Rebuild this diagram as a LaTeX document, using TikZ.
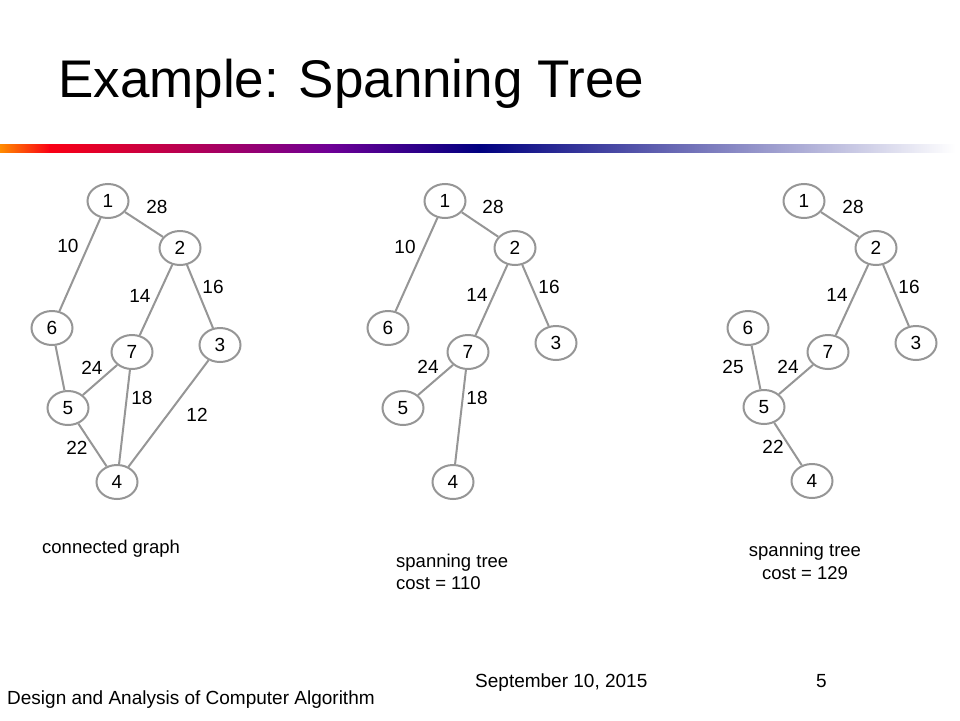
\documentclass[tikz,border=0pt]{standalone}
\usepackage{fontspec}
\setmainfont{Liberation Sans}
\usetikzlibrary{shapes.geometric}
\definecolor{edgegray}{RGB}{150,150,150}
\definecolor{gorange}{RGB}{255,140,0}
\definecolor{gred}{RGB}{250,0,20}
\definecolor{gpurple}{RGB}{110,0,150}
\definecolor{gnavy}{RGB}{0,0,128}
\begin{document}
\begin{tikzpicture}[x=1pt,y=-1pt,
  vtx/.style={ellipse,draw=edgegray,line width=2pt,minimum width=41pt,minimum height=34pt,inner sep=0pt,font=\fontsize{19}{22}\selectfont,fill=white},
  edg/.style={draw=edgegray,line width=2pt},
  wlab/.style={font=\fontsize{19}{22}\selectfont,inner sep=0pt},
  captxt/.style={font=\fontsize{18.5}{22}\selectfont,inner sep=0pt,anchor=base west},
  foot/.style={font=\fontsize{19}{22}\selectfont,inner sep=0pt,anchor=base west}]
\useasboundingbox (0,0) rectangle (960,720);
\fill[white] (0,0) rectangle (960,720);
% title
\node[font=\fontsize{53}{60}\selectfont,inner sep=0pt,anchor=base west] (title) at (58,97) {Example: Spanning Tree};
% gradient bar
\shade[left color=gorange,right color=gred] (0,144) rectangle (50,152);
\shade[left color=gred,right color=gpurple] (49.5,144) rectangle (330,152);
\shade[left color=gpurple,right color=gnavy] (329.5,144) rectangle (480,152);
\shade[left color=gnavy,right color=white] (479.5,144) rectangle (955,152);

% ---------- graph 1 ----------
\node[vtx] (a1) at (108,201) {1};
\node[vtx] (a2) at (180,248) {2};
\node[vtx] (a6) at (52,328) {6};
\node[vtx] (a7) at (132,352) {7};
\node[vtx] (a3) at (220,345) {3};
\node[vtx] (a5) at (68,408) {5};
\node[vtx] (a4) at (117,482) {4};
\draw[edg] (a1) -- (a6);
\draw[edg] (a1) -- (a2);
\draw[edg] (a2) -- (a7);
\draw[edg] (a2) -- (a3);
\draw[edg] (a6) -- (a5);
\draw[edg] (a7) -- (a5);
\draw[edg] (a7) -- (a4);
\draw[edg] (a5) -- (a4);
\draw[edg] (a3) -- (a4);
\node[wlab] (la28) at (157,207) {28};
\node[wlab] (la10) at (68,246) {10};
\node[wlab] (la16) at (213,287) {16};
\node[wlab] (la14) at (140,296) {14};
\node[wlab] (la24) at (92,368) {24};
\node[wlab] (la18) at (142,398) {18};
\node[wlab] (la12) at (197,415) {12};
\node[wlab] (la22) at (77,448) {22};
\node[captxt] (ca) at (42,553) {connected graph};

% ---------- graph 2 ----------
\node[vtx] (b1) at (445,201) {1};
\node[vtx] (b2) at (515,248) {2};
\node[vtx] (b6) at (388,328) {6};
\node[vtx] (b7) at (468,352) {7};
\node[vtx] (b3) at (556,343) {3};
\node[vtx] (b5) at (403,408) {5};
\node[vtx] (b4) at (453,482) {4};
\draw[edg] (b1) -- (b6);
\draw[edg] (b1) -- (b2);
\draw[edg] (b2) -- (b7);
\draw[edg] (b2) -- (b3);
\draw[edg] (b7) -- (b5);
\draw[edg] (b7) -- (b4);
\node[wlab] (lb28) at (493,207) {28};
\node[wlab] (lb10) at (405,247) {10};
\node[wlab] (lb14) at (477,295) {14};
\node[wlab] (lb16) at (549,287) {16};
\node[wlab] (lb24) at (428,367) {24};
\node[wlab] (lb18) at (477,398) {18};
\node[captxt] (cb1) at (396,567) {spanning tree};
\node[captxt] (cb2) at (396,589) {cost = 110};

% ---------- graph 3 ----------
\node[vtx] (c1) at (804,201) {1};
\node[vtx] (c2) at (876,248) {2};
\node[vtx] (c6) at (748,328) {6};
\node[vtx] (c7) at (828,352) {7};
\node[vtx] (c3) at (916,343) {3};
\node[vtx] (c5) at (764,407) {5};
\node[vtx] (c4) at (812,481) {4};
\draw[edg] (c1) -- (c2);
\draw[edg] (c2) -- (c7);
\draw[edg] (c2) -- (c3);
\draw[edg] (c6) -- (c5);
\draw[edg] (c7) -- (c5);
\draw[edg] (c5) -- (c4);
\node[wlab] (lc28) at (853,207) {28};
\node[wlab] (lc14) at (837,295) {14};
\node[wlab] (lc16) at (909,287) {16};
\node[wlab] (lc25) at (733,367) {25};
\node[wlab] (lc24) at (788,367) {24};
\node[wlab] (lc22) at (773,447) {22};
\node[font=\fontsize{18.5}{22}\selectfont,inner sep=0pt,anchor=base] (cc1) at (805,556) {spanning tree};
\node[font=\fontsize{18.5}{22}\selectfont,inner sep=0pt,anchor=base] (cc2) at (805,579) {cost = 129};

% footer
\node[foot] (f1) at (7,704) {Design and Analysis of Computer Algorithm};
\node[foot] (f2) at (475,687) {September 10, 2015};
\node[foot] (f3) at (816,687) {5};
\end{tikzpicture}
\end{document}
